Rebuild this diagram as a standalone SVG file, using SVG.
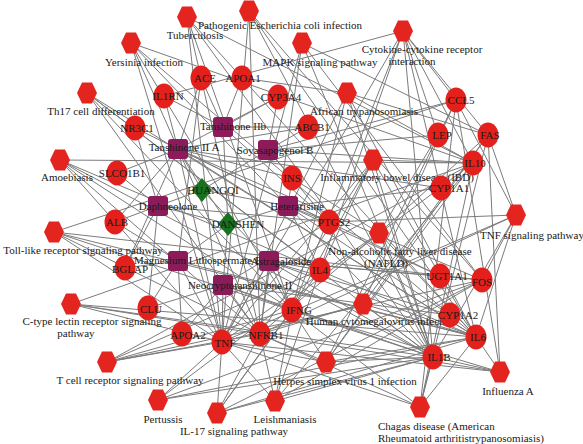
<svg xmlns="http://www.w3.org/2000/svg" xmlns:xlink="http://www.w3.org/1999/xlink" width="583" height="444" viewBox="0 0 583 444">
<style>
.e line{stroke:#7b7b7b;stroke-width:1}
.t{fill:#e3201b}
.p{fill:#e3241f}
.c{fill:#8c1b5a}
.h{fill:#19701f}
text{font-family:"Liberation Serif","DejaVu Serif",serif;font-size:11px;fill:#1a1a1a;text-anchor:middle}
.l{text-anchor:start}
</style>
<defs>
<polygon id="hx" points="-10,0 -5,-10.5 5,-10.5 10,0 5,10.5 -5,10.5"/>
<rect id="sq" x="-10" y="-10" width="20" height="20" rx="3"/>
<polygon id="dm" points="0,-12 10,0 0,12 -10,0"/>
</defs>
<rect width="583" height="444" fill="#fff"/>
<g id="connectors" class="e">
<line x1="131" y1="43" x2="222" y2="342"/><line x1="131" y1="43" x2="476" y2="337"/><line x1="131" y1="43" x2="433" y2="357"/><line x1="131" y1="43" x2="260" y2="334"/><line x1="131" y1="43" x2="473" y2="163"/><line x1="131" y1="43" x2="292" y2="310"/>
<line x1="187" y1="17" x2="222" y2="342"/><line x1="187" y1="17" x2="476" y2="337"/><line x1="187" y1="17" x2="433" y2="357"/><line x1="187" y1="17" x2="473" y2="163"/><line x1="187" y1="17" x2="292" y2="310"/><line x1="187" y1="17" x2="260" y2="334"/>
<line x1="249" y1="11" x2="222" y2="342"/><line x1="249" y1="11" x2="433" y2="357"/><line x1="249" y1="11" x2="482" y2="280"/><line x1="249" y1="11" x2="260" y2="334"/><line x1="249" y1="11" x2="476" y2="337"/>
<line x1="302" y1="43" x2="222" y2="342"/><line x1="302" y1="43" x2="433" y2="357"/><line x1="302" y1="43" x2="482" y2="280"/><line x1="302" y1="43" x2="260" y2="334"/><line x1="302" y1="43" x2="488" y2="135"/>
<line x1="403" y1="31" x2="476" y2="337"/><line x1="403" y1="31" x2="433" y2="357"/><line x1="403" y1="31" x2="222" y2="342"/><line x1="403" y1="31" x2="473" y2="163"/><line x1="403" y1="31" x2="320" y2="270"/><line x1="403" y1="31" x2="292" y2="310"/><line x1="403" y1="31" x2="456" y2="100"/><line x1="403" y1="31" x2="488" y2="135"/><line x1="403" y1="31" x2="438" y2="135"/><line x1="403" y1="31" x2="164" y2="96"/>
<line x1="347" y1="93" x2="222" y2="342"/><line x1="347" y1="93" x2="476" y2="337"/><line x1="347" y1="93" x2="433" y2="357"/><line x1="347" y1="93" x2="473" y2="163"/><line x1="347" y1="93" x2="292" y2="310"/><line x1="347" y1="93" x2="488" y2="135"/><line x1="347" y1="93" x2="242" y2="78"/>
<line x1="87" y1="93" x2="476" y2="337"/><line x1="87" y1="93" x2="433" y2="357"/><line x1="87" y1="93" x2="320" y2="270"/><line x1="87" y1="93" x2="292" y2="310"/><line x1="87" y1="93" x2="260" y2="334"/>
<line x1="60" y1="160" x2="222" y2="342"/><line x1="60" y1="160" x2="433" y2="357"/><line x1="60" y1="160" x2="476" y2="337"/><line x1="60" y1="160" x2="473" y2="163"/><line x1="60" y1="160" x2="292" y2="310"/><line x1="60" y1="160" x2="260" y2="334"/>
<line x1="54" y1="232" x2="222" y2="342"/><line x1="54" y1="232" x2="476" y2="337"/><line x1="54" y1="232" x2="433" y2="357"/><line x1="54" y1="232" x2="260" y2="334"/><line x1="54" y1="232" x2="482" y2="280"/><line x1="54" y1="232" x2="456" y2="100"/>
<line x1="71" y1="304" x2="222" y2="342"/><line x1="71" y1="304" x2="476" y2="337"/><line x1="71" y1="304" x2="433" y2="357"/><line x1="71" y1="304" x2="260" y2="334"/><line x1="71" y1="304" x2="473" y2="163"/>
<line x1="107" y1="362" x2="222" y2="342"/><line x1="107" y1="362" x2="320" y2="270"/><line x1="107" y1="362" x2="473" y2="163"/><line x1="107" y1="362" x2="292" y2="310"/><line x1="107" y1="362" x2="260" y2="334"/><line x1="107" y1="362" x2="482" y2="280"/>
<line x1="158" y1="400" x2="222" y2="342"/><line x1="158" y1="400" x2="476" y2="337"/><line x1="158" y1="400" x2="433" y2="357"/><line x1="158" y1="400" x2="473" y2="163"/><line x1="158" y1="400" x2="482" y2="280"/>
<line x1="217" y1="413" x2="222" y2="342"/><line x1="217" y1="413" x2="476" y2="337"/><line x1="217" y1="413" x2="433" y2="357"/><line x1="217" y1="413" x2="320" y2="270"/><line x1="217" y1="413" x2="292" y2="310"/><line x1="217" y1="413" x2="260" y2="334"/><line x1="217" y1="413" x2="482" y2="280"/>
<line x1="275" y1="401" x2="222" y2="342"/><line x1="275" y1="401" x2="433" y2="357"/><line x1="275" y1="401" x2="320" y2="270"/><line x1="275" y1="401" x2="473" y2="163"/><line x1="275" y1="401" x2="292" y2="310"/><line x1="275" y1="401" x2="260" y2="334"/><line x1="275" y1="401" x2="482" y2="280"/>
<line x1="326" y1="362" x2="222" y2="342"/><line x1="326" y1="362" x2="476" y2="337"/><line x1="326" y1="362" x2="433" y2="357"/><line x1="326" y1="362" x2="473" y2="163"/><line x1="326" y1="362" x2="292" y2="310"/><line x1="326" y1="362" x2="260" y2="334"/><line x1="326" y1="362" x2="488" y2="135"/><line x1="326" y1="362" x2="456" y2="100"/>
<line x1="363" y1="304" x2="222" y2="342"/><line x1="363" y1="304" x2="476" y2="337"/><line x1="363" y1="304" x2="433" y2="357"/><line x1="363" y1="304" x2="260" y2="334"/><line x1="363" y1="304" x2="329" y2="222"/><line x1="363" y1="304" x2="456" y2="100"/><line x1="363" y1="304" x2="488" y2="135"/>
<line x1="420" y1="407" x2="222" y2="342"/><line x1="420" y1="407" x2="476" y2="337"/><line x1="420" y1="407" x2="433" y2="357"/><line x1="420" y1="407" x2="473" y2="163"/><line x1="420" y1="407" x2="292" y2="310"/><line x1="420" y1="407" x2="260" y2="334"/><line x1="420" y1="407" x2="488" y2="135"/><line x1="420" y1="407" x2="456" y2="100"/>
<line x1="500" y1="372" x2="222" y2="342"/><line x1="500" y1="372" x2="476" y2="337"/><line x1="500" y1="372" x2="433" y2="357"/><line x1="500" y1="372" x2="292" y2="310"/><line x1="500" y1="372" x2="260" y2="334"/><line x1="500" y1="372" x2="488" y2="135"/><line x1="500" y1="372" x2="456" y2="100"/>
<line x1="516" y1="215" x2="222" y2="342"/><line x1="516" y1="215" x2="476" y2="337"/><line x1="516" y1="215" x2="433" y2="357"/><line x1="516" y1="215" x2="482" y2="280"/><line x1="516" y1="215" x2="260" y2="334"/><line x1="516" y1="215" x2="329" y2="222"/><line x1="516" y1="215" x2="456" y2="100"/><line x1="516" y1="215" x2="488" y2="135"/>
<line x1="373" y1="160" x2="222" y2="342"/><line x1="373" y1="160" x2="476" y2="337"/><line x1="373" y1="160" x2="433" y2="357"/><line x1="373" y1="160" x2="473" y2="163"/><line x1="373" y1="160" x2="320" y2="270"/><line x1="373" y1="160" x2="292" y2="310"/><line x1="373" y1="160" x2="260" y2="334"/>
<line x1="379" y1="233" x2="222" y2="342"/><line x1="379" y1="233" x2="476" y2="337"/><line x1="379" y1="233" x2="433" y2="357"/><line x1="379" y1="233" x2="260" y2="334"/><line x1="379" y1="233" x2="292" y2="178"/><line x1="379" y1="233" x2="438" y2="135"/><line x1="379" y1="233" x2="488" y2="135"/>
<line x1="178" y1="149" x2="135" y2="128"/><line x1="178" y1="149" x2="164" y2="96"/><line x1="178" y1="149" x2="115" y2="222"/><line x1="178" y1="149" x2="117" y2="173"/><line x1="178" y1="149" x2="329" y2="222"/><line x1="178" y1="149" x2="292" y2="178"/><line x1="178" y1="149" x2="222" y2="342"/><line x1="178" y1="149" x2="476" y2="337"/><line x1="178" y1="149" x2="482" y2="280"/><line x1="178" y1="149" x2="441" y2="188"/><line x1="178" y1="149" x2="278" y2="97"/><line x1="178" y1="149" x2="308" y2="127"/><line x1="178" y1="149" x2="440" y2="276"/><line x1="178" y1="149" x2="125" y2="268"/><line x1="178" y1="149" x2="201" y2="78"/>
<line x1="223" y1="127" x2="201" y2="78"/><line x1="223" y1="127" x2="242" y2="78"/><line x1="223" y1="127" x2="278" y2="97"/><line x1="223" y1="127" x2="308" y2="127"/><line x1="223" y1="127" x2="164" y2="96"/><line x1="223" y1="127" x2="329" y2="222"/>
<line x1="268" y1="150" x2="278" y2="97"/><line x1="268" y1="150" x2="308" y2="127"/><line x1="268" y1="150" x2="292" y2="178"/><line x1="268" y1="150" x2="438" y2="135"/><line x1="268" y1="150" x2="456" y2="100"/><line x1="268" y1="150" x2="329" y2="222"/><line x1="268" y1="150" x2="473" y2="163"/>
<line x1="158" y1="206" x2="117" y2="173"/><line x1="158" y1="206" x2="115" y2="222"/><line x1="158" y1="206" x2="125" y2="268"/><line x1="158" y1="206" x2="135" y2="128"/><line x1="158" y1="206" x2="148" y2="308"/><line x1="158" y1="206" x2="329" y2="222"/>
<line x1="288" y1="206" x2="292" y2="178"/><line x1="288" y1="206" x2="329" y2="222"/><line x1="288" y1="206" x2="441" y2="188"/><line x1="288" y1="206" x2="320" y2="270"/><line x1="288" y1="206" x2="440" y2="276"/><line x1="288" y1="206" x2="450" y2="315"/>
<line x1="178" y1="261" x2="115" y2="222"/><line x1="178" y1="261" x2="125" y2="268"/><line x1="178" y1="261" x2="148" y2="308"/><line x1="178" y1="261" x2="182" y2="334"/><line x1="178" y1="261" x2="222" y2="342"/><line x1="178" y1="261" x2="476" y2="337"/><line x1="178" y1="261" x2="201" y2="78"/>
<line x1="269" y1="261" x2="320" y2="270"/><line x1="269" y1="261" x2="292" y2="310"/><line x1="269" y1="261" x2="260" y2="334"/><line x1="269" y1="261" x2="433" y2="357"/><line x1="269" y1="261" x2="476" y2="337"/><line x1="269" y1="261" x2="222" y2="342"/><line x1="269" y1="261" x2="450" y2="315"/><line x1="269" y1="261" x2="482" y2="280"/><line x1="269" y1="261" x2="440" y2="276"/>
<line x1="223" y1="285" x2="222" y2="342"/><line x1="223" y1="285" x2="260" y2="334"/><line x1="223" y1="285" x2="182" y2="334"/><line x1="223" y1="285" x2="148" y2="308"/><line x1="223" y1="285" x2="433" y2="357"/><line x1="223" y1="285" x2="292" y2="310"/><line x1="223" y1="285" x2="329" y2="222"/><line x1="223" y1="285" x2="450" y2="315"/>
<line x1="202" y1="190" x2="268" y2="150"/><line x1="202" y1="190" x2="158" y2="206"/><line x1="202" y1="190" x2="269" y2="261"/><line x1="202" y1="190" x2="288" y2="206"/><line x1="202" y1="190" x2="178" y2="149"/>
<line x1="228" y1="224" x2="178" y2="149"/><line x1="228" y1="224" x2="223" y2="127"/><line x1="228" y1="224" x2="178" y2="261"/><line x1="228" y1="224" x2="223" y2="285"/><line x1="228" y1="224" x2="158" y2="206"/><line x1="228" y1="224" x2="288" y2="206"/>
</g>
<g id="pathways">
<g id="p-yersinia"><use href="#hx" x="131" y="43" class="p"/><text x="144" y="66">Yersinia infection</text></g>
<g id="p-tuberculosis"><use href="#hx" x="187" y="17" class="p"/><text x="195" y="39">Tuberculosis</text></g>
<g id="p-ecoli"><use href="#hx" x="249" y="11" class="p"/><text x="280" y="29">Pathogenic Escherichia coli infection</text></g>
<g id="p-mapk"><use href="#hx" x="302" y="43" class="p"/><text x="320" y="66">MAPK signaling pathway</text></g>
<g id="p-cytokine"><use href="#hx" x="403" y="31" class="p"/><text x="422" y="53">Cytokine-cytokine receptor</text><text x="412" y="65">interaction</text></g>
<g id="p-african"><use href="#hx" x="347" y="93" class="p"/><text x="364" y="115">African trypanosomiasis</text></g>
<g id="p-th17"><use href="#hx" x="87" y="93" class="p"/><text x="101" y="115">Th17 cell differentiation</text></g>
<g id="p-amoebiasis"><use href="#hx" x="60" y="160" class="p"/><text x="67" y="181">Amoebiasis</text></g>
<g id="p-toll"><use href="#hx" x="54" y="232" class="p"/><text x="83" y="254">Toll-like receptor signaling pathway</text></g>
<g id="p-ctype"><use href="#hx" x="71" y="304" class="p"/><text x="92" y="325">C-type lectin receptor signaling</text><text x="76" y="337">pathway</text></g>
<g id="p-tcell"><use href="#hx" x="107" y="362" class="p"/><text x="130" y="384">T cell receptor signaling pathway</text></g>
<g id="p-pertussis"><use href="#hx" x="158" y="400" class="p"/><text x="163" y="423">Pertussis</text></g>
<g id="p-il17"><use href="#hx" x="217" y="413" class="p"/><text x="234" y="435">IL-17 signaling pathway</text></g>
<g id="p-leish"><use href="#hx" x="275" y="401" class="p"/><text x="285" y="423">Leishmaniasis</text></g>
<g id="p-herpes"><use href="#hx" x="326" y="362" class="p"/><text x="345" y="385">Herpes simplex virus 1 infection</text></g>
<g id="p-hcmv"><use href="#hx" x="363" y="304" class="p"/><text x="381" y="325">Human cytomegalovirus infection</text></g>
<g id="p-chagas"><use href="#hx" x="420" y="407" class="p"/><text x="378" y="430" class="l">Chagas disease (American</text><text x="378" y="442" class="l">Rheumatoid arthritistrypanosomiasis)</text></g>
<g id="p-influenza"><use href="#hx" x="500" y="372" class="p"/><text x="508" y="395">Influenza A</text></g>
<g id="p-tnfsig"><use href="#hx" x="516" y="215" class="p"/><text x="532" y="239">TNF signaling pathway</text></g>
<g id="p-ibd"><use href="#hx" x="373" y="160" class="p"/><text x="397" y="181">Inflammatory bowel disease (IBD)</text></g>
<g id="p-nafld"><use href="#hx" x="379" y="233" class="p"/><text x="400" y="255">Non-alcoholic fatty liver disease</text><text x="386" y="267">(NAFLD)</text></g>
</g>
<g id="targets">
<g id="t-ACE"><ellipse cx="201" cy="78" rx="10.5" ry="12.5" class="t"/><text x="205" y="82">ACE</text></g>
<g id="t-APOA1"><ellipse cx="242" cy="78" rx="10.5" ry="12.5" class="t"/><text x="243" y="82">APOA1</text></g>
<g id="t-IL1RN"><ellipse cx="164" cy="96" rx="10.5" ry="12.5" class="t"/><text x="168" y="100">IL1RN</text></g>
<g id="t-CYP3A4"><ellipse cx="278" cy="97" rx="10.5" ry="12.5" class="t"/><text x="281" y="101">CYP3A4</text></g>
<g id="t-ABCB1"><ellipse cx="308" cy="127" rx="10.5" ry="12.5" class="t"/><text x="312" y="131">ABCB1</text></g>
<g id="t-NR3C1"><ellipse cx="135" cy="128" rx="10.5" ry="12.5" class="t"/><text x="137" y="132">NR3C1</text></g>
<g id="t-CCL5"><ellipse cx="456" cy="100" rx="10.5" ry="12.5" class="t"/><text x="461" y="104">CCL5</text></g>
<g id="t-LEP"><ellipse cx="438" cy="135" rx="10.5" ry="12.5" class="t"/><text x="442" y="139">LEP</text></g>
<g id="t-FAS"><ellipse cx="488" cy="135" rx="10.5" ry="12.5" class="t"/><text x="490" y="139">FAS</text></g>
<g id="t-IL10"><ellipse cx="473" cy="163" rx="10.5" ry="12.5" class="t"/><text x="475" y="167">IL10</text></g>
<g id="t-CYP1A1"><ellipse cx="441" cy="188" rx="10.5" ry="12.5" class="t"/><text x="449" y="192">CYP1A1</text></g>
<g id="t-INS"><ellipse cx="292" cy="178" rx="10.5" ry="12.5" class="t"/><text x="292" y="182">INS</text></g>
<g id="t-SLCO1B1"><ellipse cx="117" cy="173" rx="10.5" ry="12.5" class="t"/><text x="122" y="177">SLCO1B1</text></g>
<g id="t-ALB"><ellipse cx="115" cy="222" rx="10.5" ry="12.5" class="t"/><text x="117" y="226">ALB</text></g>
<g id="t-BGLAP"><ellipse cx="125" cy="268" rx="10.5" ry="12.5" class="t"/><text x="130" y="273">BGLAP</text></g>
<g id="t-PTGS2"><ellipse cx="329" cy="222" rx="10.5" ry="12.5" class="t"/><text x="334" y="226">PTGS2</text></g>
<g id="t-IL4"><ellipse cx="320" cy="270" rx="10.5" ry="12.5" class="t"/><text x="320" y="274">IL4</text></g>
<g id="t-UGT1A1"><ellipse cx="440" cy="276" rx="10.5" ry="12.5" class="t"/><text x="447" y="280">UGT1A1</text></g>
<g id="t-FOS"><ellipse cx="482" cy="280" rx="10.5" ry="12.5" class="t"/><text x="482" y="286">FOS</text></g>
<g id="t-CYP1A2"><ellipse cx="450" cy="315" rx="10.5" ry="12.5" class="t"/><text x="458" y="319">CYP1A2</text></g>
<g id="t-IL6"><ellipse cx="476" cy="337" rx="10.5" ry="12.5" class="t"/><text x="478" y="341">IL6</text></g>
<g id="t-IL1B"><ellipse cx="433" cy="357" rx="10.5" ry="12.5" class="t"/><text x="439" y="361">IL1B</text></g>
<g id="t-IFNG"><ellipse cx="292" cy="310" rx="10.5" ry="12.5" class="t"/><text x="299" y="314">IFNG</text></g>
<g id="t-NFKB1"><ellipse cx="260" cy="334" rx="10.5" ry="12.5" class="t"/><text x="266" y="339">NFKB1</text></g>
<g id="t-TNF"><ellipse cx="222" cy="342" rx="10.5" ry="12.5" class="t"/><text x="225" y="347">TNF</text></g>
<g id="t-APOA2"><ellipse cx="182" cy="334" rx="10.5" ry="12.5" class="t"/><text x="188" y="339">APOA2</text></g>
<g id="t-CLU"><ellipse cx="148" cy="308" rx="10.5" ry="12.5" class="t"/><text x="151" y="313">CLU</text></g>
</g>
<g id="compounds">
<g id="c-tan2b"><use href="#sq" x="223" y="127" class="c"/><text x="233" y="130">Tanshinone IIb</text></g>
<g id="c-tan2a"><use href="#sq" x="178" y="149" class="c"/><text x="184" y="151">Tanshinone II A</text></g>
<g id="c-soya"><use href="#sq" x="268" y="150" class="c"/><text x="275" y="154">Soyasapogenol B</text></g>
<g id="c-daph"><use href="#sq" x="158" y="206" class="c"/><text x="168" y="210">Daphneolone</text></g>
<g id="c-hetera"><use href="#sq" x="288" y="206" class="c"/><text x="297" y="210">Heterarisine</text></g>
<g id="c-magn"><use href="#sq" x="178" y="261" class="c"/><text x="134" y="264" class="l">Magnesium Lithospermate B</text></g>
<g id="c-astra"><use href="#sq" x="269" y="261" class="c"/><text x="281" y="265">Astragaloside</text></g>
<g id="c-neo"><use href="#sq" x="223" y="285" class="c"/><text x="240" y="289">Neocryptotanshinone II</text></g>
</g>
<g id="herbs">
<g id="h-huangqi"><use href="#dm" x="202" y="190" class="h"/><text x="213" y="194">HUANGQI</text></g>
<g id="h-danshen"><use href="#dm" x="228" y="224" class="h"/><text x="238" y="228">DANSHEN</text></g>
</g>
</svg>
